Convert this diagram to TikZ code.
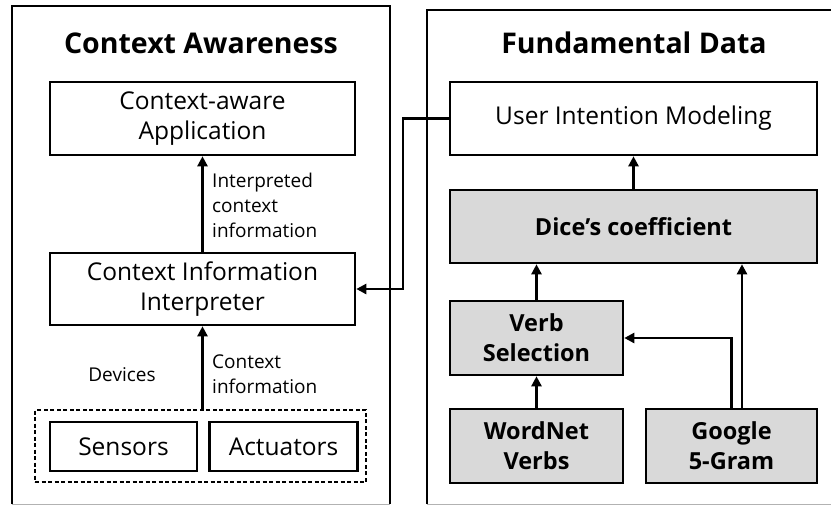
\documentclass[tikz,border=0pt]{standalone}
\usepackage{fontspec}
\setmainfont{Open Sans}
\usetikzlibrary{positioning,arrows.meta}

\tikzset{
  box/.style={draw, line width=2.6pt, align=center, inner sep=0pt, font=\fontsize{24.5}{30}\selectfont},
  databox/.style={box, fill=gray!30, font=\bfseries\fontsize{23.5}{30}\selectfont},
  note/.style={align=left, inner sep=0pt, anchor=west, font=\fontsize{19}{25}\selectfont},
  title/.style={inner sep=0pt, font=\bfseries\fontsize{28.5}{32}\selectfont},
  frame/.style={line width=2.6pt},
  flow/.style={line width=2.4pt, -{Triangle[length=10pt,width=10pt]}}
}

\begin{document}
\begin{tikzpicture}[x=1pt, y=-1pt]
  \useasboundingbox (0,0) rectangle (831,506);

  % panels
  \draw[frame] (12,504) -- (12,6) -- (390,6) -- (390,504);
  \draw[frame] (427,504) -- (427,10) -- (840,10);
  \draw[gray!60, line width=1pt] (12,504) -- (390,504) (427,504) -- (831,504);

  \node[title] (ca) at (201,43) {Context Awareness};
  \node[title] (fd) at (634,43) {Fundamental Data};

  % context awareness side
  \node[box, minimum width=305pt, minimum height=73pt] (app) at (202.5,118.5) {Context-aware\\Application};
  \node[box, minimum width=305pt, minimum height=72pt] (interp) at (202.5,289) {Context Information\\Interpreter};
  \node[box, minimum width=147pt, minimum height=49pt] (sens) at (123.5,446.5) {Sensors};
  \node[box, minimum width=148pt, minimum height=49pt] (act) [right=10pt of sens] {Actuators};
  \node[draw, dash pattern=on 4pt off 2.5pt, line width=1.4pt, minimum width=331pt, minimum height=72pt] (dev) at (200.5,446) {};

  \node[note] (l1) at (212,205) {Interpreted\\context\\information};
  \node[note] (l2) at (212,374.5) {Context\\information};
  \node[note, anchor=center] (l3) at (122,375) {Devices};

  % fundamental data side
  \node[box, minimum width=367pt, minimum height=73pt] (uim) at (633.5,118.5) {User Intention Modeling};
  \node[databox, minimum width=367pt, minimum height=73pt] (dice) at (633.5,226.5) {Dice’s coefficient};
  \node[databox, minimum width=173pt, minimum height=74pt] (verb) at (536.5,338) {Verb\\Selection};
  \node[databox, minimum width=173pt, minimum height=74pt] (wn) at (536.5,446) {WordNet\\Verbs};
  \node[databox, minimum width=171pt, minimum height=74pt] (gram) at (731.5,446) {Google\\5-Gram};

  \coordinate (bend) at (403,0);
  \coordinate (gtop) at ([xshift=10.5pt]gram.north);

  \draw[flow] (interp) -- (app);
  \draw[flow] (dev.north -| interp) -- (interp);
  \draw[flow] (dice) -- (uim);
  \draw[flow] (verb) -- (verb |- dice.south);
  \draw[flow] (wn) -- (verb);
  \draw[flow] (gram.north) |- (verb.east);
  \draw[flow] (gtop) -- (gtop |- dice.south);
  \draw[flow] (uim.west) -- (uim.west -| bend) -- (bend |- interp.east) -- (interp.east);

\end{tikzpicture}
\end{document}
